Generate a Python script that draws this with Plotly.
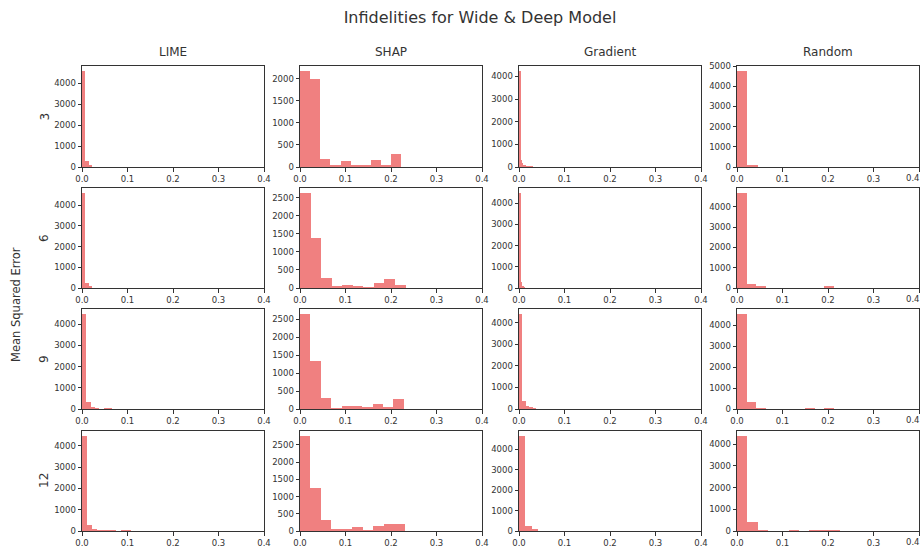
import plotly.graph_objects as go
import numpy as np

methods = ["LIME", "SHAP", "Gradient", "Random"]
row_labels = ["3", "6", "9", "12"]

# Upper end of the histogram range (10 equal bins from 0) for each panel, row-major
bin_max = [
    [0.075, 0.223, 0.030, 0.226],
    [0.075, 0.232, 0.035, 0.213],
    [0.095, 0.228, 0.075, 0.213],
    [0.107, 0.230, 0.139, 0.227],
]

# Counts per bin (0 where nothing is visible)
counts = [
    [
        [4587, 286, 80, 0, 0, 0, 0, 0, 0, 0],
        [2182, 1985, 174, 30, 136, 45, 23, 152, 23, 296],
        [4250, 325, 180, 100, 60, 40, 30, 15, 8, 5],
        [4768, 116, 0, 0, 0, 0, 0, 0, 0, 0],
    ],
    [
        [4600, 250, 80, 0, 0, 0, 0, 0, 0, 0],
        [2637, 1374, 284, 46, 82, 46, 27, 137, 247, 82],
        [4500, 300, 60, 30, 0, 0, 0, 0, 0, 0],
        [4687, 196, 50, 0, 0, 0, 0, 0, 0, 50],
    ],
    [
        [4497, 311, 90, 40, 0, 40, 40, 0, 0, 0],
        [2648, 1347, 304, 20, 74, 92, 28, 148, 55, 286],
        [4428, 380, 120, 60, 40, 0, 0, 0, 0, 0],
        [4537, 316, 47, 0, 0, 0, 0, 20, 0, 30],
    ],
    [
        [4480, 280, 110, 40, 40, 40, 30, 0, 40, 40],
        [2768, 1255, 316, 57, 57, 105, 29, 144, 192, 192],
        [4660, 243, 80, 0, 0, 0, 0, 0, 0, 0],
        [4395, 410, 40, 0, 0, 30, 0, 30, 30, 30],
    ],
]

y_dticks = [
    [1000, 500, 1000, 1000],
    [1000, 500, 1000, 1000],
    [1000, 500, 1000, 1000],
    [1000, 500, 1000, 1000],
]

x_ticks = [0.0, 0.1, 0.2, 0.3, 0.4]
x_ticktext = ["0.0", "0.1", "0.2", "0.3", "0.4"]

W, H = 923, 548
col_px = [(82, 264), (300, 482), (519, 701), (737, 919)]
row_px = [(66, 167), (188, 288), (309, 409), (431, 531)]

BAR_COLOR = "rgb(240,128,128)"
AX_COLOR = "#333333"
FONT = "DejaVu Sans"
TICK_SIZE = 8.5

fig = go.Figure()
annotations = []

for r in range(4):
    for c in range(4):
        idx = r * 4 + c + 1
        xa = "x" if idx == 1 else f"x{idx}"
        ya = "y" if idx == 1 else f"y{idx}"
        edges = np.linspace(0, bin_max[r][c], len(counts[r][c]) + 1)
        centers = (edges[:-1] + edges[1:]) / 2
        widths = np.diff(edges)
        fig.add_trace(go.Bar(
            x=centers, y=counts[r][c], width=widths,
            marker=dict(color=BAR_COLOR, line=dict(width=0)),
            xaxis=xa, yaxis=ya, showlegend=False,
            hovertemplate="%{x:.3f}: %{y}<extra></extra>",
        ))
        x0, x1 = col_px[c]
        y0, y1 = row_px[r]
        ymax = max(counts[r][c]) * 1.05
        axis_common = dict(
            showline=True, linecolor=AX_COLOR, linewidth=1, mirror=True,
            ticks="outside", ticklen=3.5, tickcolor=AX_COLOR, tickwidth=1,
            showgrid=False, zeroline=False, automargin=False,
            tickfont=dict(family=FONT, size=TICK_SIZE, color=AX_COLOR),
        )
        fig.layout[("xaxis" if idx == 1 else f"xaxis{idx}")] = dict(
            domain=[x0 / W, x1 / W], anchor=ya, range=[0, 0.4],
            tickmode="array", tickvals=x_ticks, ticktext=x_ticktext,
            **axis_common,
        )
        fig.layout[("yaxis" if idx == 1 else f"yaxis{idx}")] = dict(
            domain=[1 - y1 / H, 1 - y0 / H], anchor=xa, range=[0, ymax],
            tick0=0, dtick=y_dticks[r][c],
            **axis_common,
        )
        # the right-most "0.4" label sits at the page edge; keep it fully on the page
        if c == 3:
            annotations.append(dict(
                text=x_ticktext[-1], x=922 / W, y=1 - (y1 + 4) / H,
                xref="paper", yref="paper", showarrow=False,
                xanchor="right", yanchor="top",
                font=dict(family=FONT, size=TICK_SIZE, color=AX_COLOR),
            ))

# column titles
for c, m in enumerate(methods):
    x0, x1 = col_px[c]
    annotations.append(dict(
        text=m, x=(x0 + x1) / 2 / W, y=1 - 52 / H, xref="paper", yref="paper",
        showarrow=False, xanchor="center", yanchor="middle",
        font=dict(family=FONT, size=12, color=AX_COLOR),
    ))

# row labels
for r, lab in enumerate(row_labels):
    y0, y1 = row_px[r]
    annotations.append(dict(
        text=lab, x=44 / W, y=1 - (y0 + y1) / 2 / H, xref="paper", yref="paper",
        showarrow=False, xanchor="center", yanchor="middle", textangle=-90,
        font=dict(family=FONT, size=12, color=AX_COLOR),
    ))

# common y label
annotations.append(dict(
    text="Mean Squared Error", x=16 / W, y=1 - 305 / H, xref="paper", yref="paper",
    showarrow=False, xanchor="center", yanchor="middle", textangle=-90,
    font=dict(family=FONT, size=11.5, color=AX_COLOR),
))

fig.update_layout(
    width=W, height=H,
    margin=dict(l=0, r=0, t=0, b=0, autoexpand=False),
    paper_bgcolor="white", plot_bgcolor="white",
    bargap=0,
    title=dict(
        text="Infidelities for Wide & Deep Model", x=480 / W, xanchor="center",
        y=1 - 17 / H, yanchor="middle",
        font=dict(family=FONT, size=16, color=AX_COLOR),
    ),
    annotations=annotations,
)

fig.write_html("out.html")
